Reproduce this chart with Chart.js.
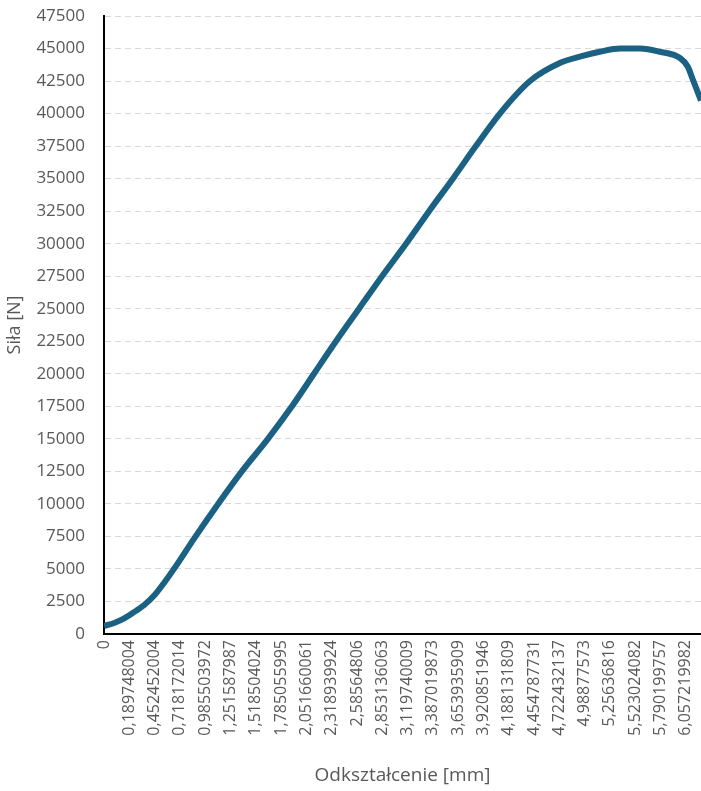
<!DOCTYPE html>
<html>
<head>
<meta charset="utf-8">
<script src="https://cdn.jsdelivr.net/npm/chart.js@4"></script>
<style>
	html, body { margin:0; padding:0; background:#fff; }
	#wrap { width:701px; height:791px; position:relative; }
</style>
</head>
<body>
<div id="wrap"><canvas id="myChart" width="701" height="791"></canvas></div>
<script>
// tick labels of the category axis (every labelled category)
const xLabels = ['0','0,189748004','0,452452004','0,718172014','0,985503972','1,251587987','1,518504024',
	'1,785055995','2,051660061','2,318939924','2,58564806','2,853136063','3,119740009','3,387019873',
	'3,653935909','3,920851946','4,188131809','4,454787731','4,722432137','4,98877573','5,25636816',
	'5,523024082','5,790199757','6,057219982'];

// position along the category axis (in label steps) and force
const position = [0, 0.4, 0.8, 1.2, 1.6, 2.0, 2.4, 2.8, 3.6, 4.51, 5.45, 6.48, 7.43, 8.3, 9.17,
	10.08, 10.99, 11.94, 12.85, 13.79, 14.7, 15.65, 16.84, 18.02, 18.81, 19.6, 20.4, 21.19, 21.98,
	22.77, 23.08, 23.28, 23.6];
const force = [620, 850, 1200, 1700, 2250, 3000, 4000, 5100, 7450, 10000, 12500, 15000, 17500, 20000, 22500,
	25000, 27500, 30000, 32500, 35000, 37500, 40000, 42500, 43880, 44370, 44750, 45000, 45000, 44750,
	44270, 43600, 42600, 41000];

const yTicks = { min:0, max:47500, step:2500 };

document.addEventListener('DOMContentLoaded', init, false);

function init() {

	const ctx = document.getElementById('myChart');
	const font = 'Open Sans';
	const grey = '#595959';

	let points = position.map((p, i) => ({ x:p, y:force[i] }));

	new Chart(ctx, {
		type: 'line',
		data: {
			datasets: [{
				data: points,
				borderColor: '#1a6183',
				borderWidth: 6,
				pointRadius: 0,
				cubicInterpolationMode: 'monotone',
				fill: false
			}]
		},
		options: {
			responsive: false,
			animation: false,
			layout: { padding: { top:16, right:0, left:0, bottom:0 } },
			plugins: { legend: { display:false }, tooltip: { enabled:false } },
			scales: {
				x: {
					type: 'linear',
					min: 0,
					max: 23.6,
					afterBuildTicks: s => { s.ticks = xLabels.map((l, i) => ({ value:i })); },
					afterFit: s => { s.height = 157; s.paddingLeft = 0; s.paddingRight = 0; },
					ticks: {
						autoSkip: false,
						minRotation: 90,
						maxRotation: 90,
						padding: 6,
						color: grey,
						font: { family:font, size:16 },
						callback: v => xLabels[v]
					},
					grid: { display:false, drawTicks:false },
					border: { color:'#000', width:2 },
					title: { display:true, text:'Odkształcenie [mm]', color:grey, font:{ family:font, size:19 } }
				},
				y: {
					min: yTicks.min,
					max: yTicks.max,
					afterFit: s => { s.width = 104; s.paddingTop = 0; s.paddingBottom = 0; },
					ticks: {
						stepSize: yTicks.step,
						padding: 19,
						color: grey,
						font: { family:font, size:17 },
						callback: v => String(v)
					},
					grid: { color:'#d9d9d9', lineWidth:1, drawTicks:false },
					border: { color:'#000', width:2, dash:[6,4] },
					title: { display:true, text:'Siła [N]', color:grey, font:{ family:font, size:18 } }
				}
			}
		}
	});
}
</script>
</body>
</html>
